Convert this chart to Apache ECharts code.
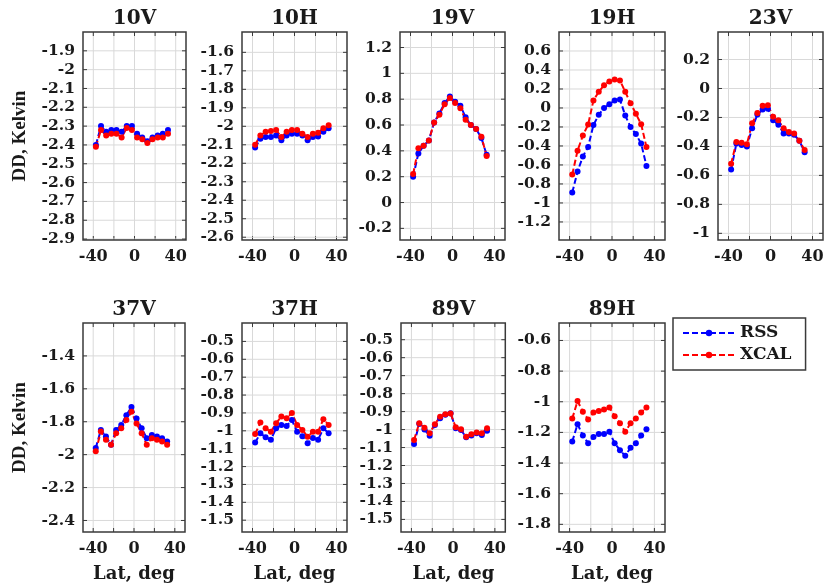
<!DOCTYPE html>
<html><head><meta charset="utf-8">
<script src="https://cdn.jsdelivr.net/npm/echarts@6/dist/echarts.min.js"></script>
<style>html,body{margin:0;padding:0;background:#fff}#wrap{position:relative;width:827px;height:586px}.p{position:absolute}</style>
</head><body><div id="wrap"></div>
<script>
// ---- data ----
const lat = [-37.5,-32.5,-27.5,-22.5,-17.5,-12.5,-7.5,-2.5,2.5,7.5,12.5,17.5,22.5,27.5,32.5];
const panelNames = ['10V','10H','19V','19H','23V','37V','37H','89V','89H'];
const seriesNames = ['RSS','XCAL'];
const xGridTicks = [-40,-20,0,20,40];
const xTickLabels = [-40,0,40];

const rss_10V  = [-2.40,-2.30,-2.33,-2.32,-2.32,-2.33,-2.30,-2.30,-2.34,-2.36,-2.38,-2.36,-2.35,-2.34,-2.32];
const xcal_10V = [-2.41,-2.32,-2.35,-2.34,-2.34,-2.36,-2.31,-2.32,-2.36,-2.37,-2.39,-2.37,-2.36,-2.36,-2.34];
const rss_10H  = [-2.115,-2.067,-2.058,-2.058,-2.05,-2.076,-2.05,-2.04,-2.04,-2.05,-2.076,-2.058,-2.055,-2.03,-2.01];
const xcal_10H = [-2.10,-2.05,-2.03,-2.025,-2.02,-2.058,-2.03,-2.02,-2.02,-2.04,-2.058,-2.04,-2.035,-2.01,-1.995];
const rss_19V  = [0.20,0.38,0.44,0.48,0.62,0.69,0.77,0.82,0.78,0.75,0.66,0.60,0.57,0.50,0.37];
const xcal_19V = [0.22,0.42,0.44,0.48,0.62,0.68,0.76,0.81,0.77,0.73,0.64,0.60,0.57,0.51,0.36];
const rss_19H  = [-0.89,-0.67,-0.51,-0.41,-0.18,-0.07,0.0,0.04,0.08,0.09,-0.08,-0.20,-0.275,-0.375,-0.61];
const xcal_19H = [-0.70,-0.45,-0.29,-0.175,0.08,0.17,0.24,0.28,0.30,0.29,0.17,0.05,-0.06,-0.17,-0.41];
const rss_23V  = [-0.56,-0.38,-0.39,-0.40,-0.275,-0.18,-0.145,-0.14,-0.22,-0.25,-0.31,-0.31,-0.32,-0.36,-0.44];
const xcal_23V = [-0.52,-0.37,-0.375,-0.385,-0.24,-0.17,-0.12,-0.115,-0.195,-0.22,-0.275,-0.30,-0.31,-0.36,-0.425];
const rss_37V  = [-1.96,-1.85,-1.89,-1.94,-1.85,-1.82,-1.76,-1.71,-1.78,-1.84,-1.90,-1.88,-1.89,-1.90,-1.92];
const xcal_37V = [-1.98,-1.86,-1.91,-1.94,-1.87,-1.84,-1.79,-1.74,-1.81,-1.87,-1.94,-1.90,-1.91,-1.92,-1.94];
const rss_37H  = [-1.066,-1.014,-1.036,-1.05,-0.986,-0.967,-0.973,-0.94,-1.005,-1.03,-1.07,-1.04,-1.05,-0.986,-1.014];
const xcal_37H = [-1.018,-0.954,-0.986,-1.005,-0.958,-0.92,-0.93,-0.90,-0.967,-0.995,-1.033,-1.005,-1.005,-0.935,-0.967];
const rss_89V  = [-1.08,-0.968,-1.0,-1.035,-0.974,-0.937,-0.918,-0.909,-0.993,-1.002,-1.043,-1.033,-1.02,-1.03,-1.006];
const xcal_89V = [-1.058,-0.965,-0.99,-1.02,-0.97,-0.928,-0.915,-0.91,-0.987,-0.998,-1.04,-1.026,-1.017,-1.02,-0.993];
const rss_89H  = [-1.26,-1.146,-1.22,-1.27,-1.23,-1.21,-1.21,-1.196,-1.27,-1.316,-1.353,-1.30,-1.27,-1.22,-1.18];
const xcal_89H = [-1.11,-0.995,-1.065,-1.115,-1.07,-1.06,-1.05,-1.037,-1.094,-1.14,-1.196,-1.14,-1.11,-1.07,-1.037];

const yTicks_10V = [-2.9,-2.8,-2.7,-2.6,-2.5,-2.4,-2.3,-2.2,-2.1,-2,-1.9];
const yTicks_10H = [-2.6,-2.5,-2.4,-2.3,-2.2,-2.1,-2,-1.9,-1.8,-1.7,-1.6];
const yTicks_19V = [-0.2,0,0.2,0.4,0.6,0.8,1,1.2];
const yTicks_19H = [-1.2,-1,-0.8,-0.6,-0.4,-0.2,0,0.2,0.4,0.6];
const yTicks_23V = [-1,-0.8,-0.6,-0.4,-0.2,0,0.2];
const yTicks_37V = [-2.4,-2.2,-2,-1.8,-1.6,-1.4];
const yTicks_37H = [-1.5,-1.4,-1.3,-1.2,-1.1,-1,-0.9,-0.8,-0.7,-0.6,-0.5];
const yTicks_89V = [-1.5,-1.4,-1.3,-1.2,-1.1,-1,-0.9,-0.8,-0.7,-0.6,-0.5];
const yTicks_89H = [-1.8,-1.6,-1.4,-1.2,-1,-0.8,-0.6];

// ---- axis ranges & layout ----
const rssData  = [rss_10V, rss_10H, rss_19V, rss_19H, rss_23V, rss_37V, rss_37H, rss_89V, rss_89H];
const xcalData = [xcal_10V, xcal_10H, xcal_19V, xcal_19H, xcal_23V, xcal_37V, xcal_37H, xcal_89V, xcal_89H];
const yTicks = [yTicks_10V, yTicks_10H, yTicks_19V, yTicks_19H, yTicks_23V, yTicks_37V, yTicks_37H, yTicks_89V, yTicks_89H];
const xRange = [-50, 50];
const yRange = [[-2.905,-1.8],[-2.615,-1.49],[-0.29,1.32],[-1.39,0.8],[-1.046,0.39],[-2.47,-1.2],[-1.566,-0.397],[-1.57,-0.407],[-1.85,-0.486]];
// plot boxes [left, top, width, height] in page px
const boxes = [
  [83,32,103,208],[242,32,105,208],[400,32,105,208],[559,32,106,208],[718,32,105,208],
  [83,323,102,209],[242,323,105,209],[401,323,105,209],[559,323,106,209]
];
// container of each panel [left, top, width, height]
const cells = [
  [0,0,190,290],[190,0,161,290],[351,0,158,290],[509,0,160,290],[669,0,158,290],
  [0,290,190,296],[190,290,161,296],[351,290,158,296],[509,290,318,296]
];

const FONT = '"DejaVu Serif", "Liberation Serif", serif';
const TXT = '#1a1a1a';
const BOX = '#3a3a3a';
const GRIDC = '#d9d9d9';
const TICKLEN = 4;
const fmt = v => String(Math.round(v * 100) / 100);
const centerText = (txt, x, y, font) => ({type: 'text', x: x, y: y,
  style: {text: txt, font: font, fill: TXT,
    align: 'center', verticalAlign: 'middle', textAlign: 'center', textVerticalAlign: 'middle'}});

// frame series: grid lines, inner ticks and the plot box, positioned through the axes (api.coord)
function frameSeries(i) {
  const yMin = yRange[i][0], yMax = yRange[i][1];
  const items = [];
  xGridTicks.forEach(v => items.push([0, v]));
  yTicks[i].forEach(v => items.push([1, v]));
  items.push([2, 0]);
  return {
    type: 'custom', xAxisIndex: 0, yAxisIndex: 0, silent: true, z: 1, clip: false,
    animation: false, data: items,
    renderItem: function (params, api) {
      const kind = api.value(0), v = api.value(1);
      const line = (a, b, stroke, w) => ({type: 'line',
        shape: {x1: a[0], y1: a[1], x2: b[0], y2: b[1]}, style: {stroke: stroke, lineWidth: w}});
      if (kind === 0) {
        const p1 = api.coord([v, yMin]), p2 = api.coord([v, yMax]);
        return {type: 'group', children: [
          line(p1, p2, GRIDC, 1),
          line(p1, [p1[0], p1[1] - TICKLEN], BOX, 1),
          line(p2, [p2[0], p2[1] + TICKLEN], BOX, 1)]};
      }
      if (kind === 1) {
        const p1 = api.coord([xRange[0], v]), p2 = api.coord([xRange[1], v]);
        return {type: 'group', children: [
          line(p1, p2, GRIDC, 1),
          line(p1, [p1[0] + TICKLEN, p1[1]], BOX, 1),
          line(p2, [p2[0] - TICKLEN, p2[1]], BOX, 1)]};
      }
      const tl = api.coord([xRange[0], yMax]), br = api.coord([xRange[1], yMin]);
      return {type: 'rect', shape: {x: tl[0], y: tl[1], width: br[0] - tl[0], height: br[1] - tl[1]},
        style: {fill: 'none', stroke: BOX, lineWidth: 1.5}};
    }
  };
}

const wrap = document.getElementById('wrap');
boxes.forEach((b, i) => {
  const c = cells[i];
  const div = document.createElement('div');
  div.className = 'p';
  div.style.left = c[0] + 'px'; div.style.top = c[1] + 'px';
  div.style.width = c[2] + 'px'; div.style.height = c[3] + 'px';
  wrap.appendChild(div);
  const gl = b[0] - c[0], gt = b[1] - c[1];

  const xAxis = {type: 'value', gridIndex: 0, min: xRange[0], max: xRange[1], position: 'bottom',
    axisLine: {show: false}, axisTick: {show: false}, splitLine: {show: false},
    axisLabel: {customValues: xTickLabels, formatter: fmt, margin: 9, color: TXT,
      fontFamily: FONT, fontWeight: 'bold', fontSize: 16}};
  const yAxis = {type: 'value', gridIndex: 0, min: yRange[i][0], max: yRange[i][1], position: 'left',
    axisLine: {show: false}, axisTick: {show: false}, splitLine: {show: false},
    axisLabel: {customValues: yTicks[i], formatter: fmt, margin: 8, color: TXT,
      fontFamily: FONT, fontWeight: 'bold', fontSize: 15.5}};

  const series = [frameSeries(i)].concat(
    [[rssData[i], '#0000ff', 0], [xcalData[i], '#ff0000', 1]].map(([vals, col, k]) => ({
      type: 'line', name: seriesNames[k], xAxisIndex: 0, yAxisIndex: 0,
      data: lat.map((x, j) => [x, vals[j]]),
      symbol: 'circle', symbolSize: 6, z: 2,
      itemStyle: {color: col}, lineStyle: {color: col, width: 2, type: [6, 3]},
      emphasis: {disabled: true}})));

  const cx = gl + b[2] / 2;
  const graphics = [centerText(panelNames[i], cx, gt - 13, 'bold 20px ' + FONT)];
  if (i >= 5) graphics.push(centerText('Lat, deg', cx, 574 - c[1], 'bold 18px ' + FONT));
  if (i === 0 || i === 5) {
    const t = centerText('DD, Kelvin', 20, gt + b[3] / 2, 'bold 19px "Liberation Serif", serif');
    t.rotation = Math.PI / 2;
    graphics.push(t);
  }

  const opt = {
    animation: false,
    grid: [{left: gl, top: gt, width: b[2], height: b[3], show: false}],
    xAxis: [xAxis], yAxis: [yAxis], series: series, graphic: graphics
  };
  if (i === boxes.length - 1) {
    opt.legend = {data: seriesNames, orient: 'vertical', left: 673 - c[0], top: 318 - c[1],
      padding: [5, 14, 5, 9], itemGap: 2, itemWidth: 52, itemHeight: 8,
      borderColor: BOX, borderWidth: 1.5, backgroundColor: '#fff',
      textStyle: {fontFamily: FONT, fontWeight: 'bold', fontSize: 17, color: TXT, lineHeight: 20},
      selectedMode: false};
  }
  echarts.init(div).setOption(opt);
});
</script></body></html>
